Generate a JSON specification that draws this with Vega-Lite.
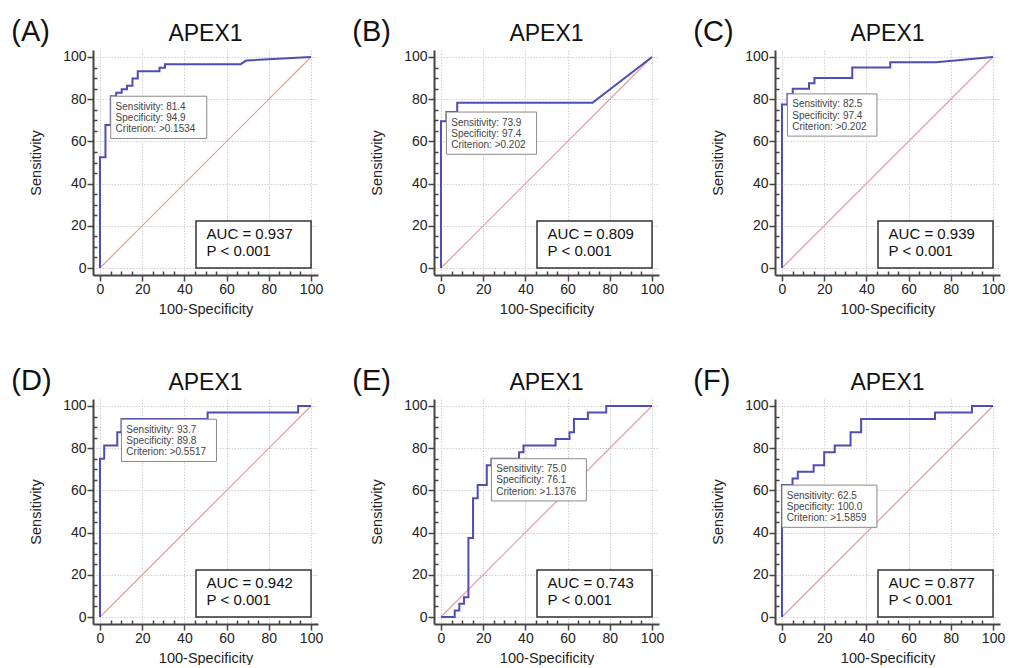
{
  "$schema": "https://vega.github.io/schema/vega-lite/v6.json",
  "background": "white",
  "padding": {"left": 11, "top": 16, "right": 5, "bottom": 0},
  "config": {
    "view": {"stroke": null},
    "font": "Liberation Sans",
    "header": {"labels": false, "title": null, "labelExpr": "''", "labelFontSize": 1, "labelPadding": 0, "titlePadding": 0},
    "axis": {
      "domainColor": "#444444", "domainWidth": 2,
      "tickColor": "#444444", "tickWidth": 1.5,
      "labelColor": "#222222", "labelFontSize": 14, "labelFont": "Liberation Sans",
      "titleColor": "#222222", "titleFontSize": 14.5, "titleFontWeight": "normal", "titleFont": "Liberation Sans",
      "gridColor": "#cfcfcf", "gridDash": [1.5, 1.5], "gridWidth": 1
    }
  },
  "data": {"values": [
    {"panel": "A", "kind": "roc", "order": 0, "x": 0, "y": 0},
    {"panel": "A", "kind": "roc", "order": 1, "x": 0, "y": 52.5},
    {"panel": "A", "kind": "roc", "order": 2, "x": 2.6, "y": 52.5},
    {"panel": "A", "kind": "roc", "order": 3, "x": 2.6, "y": 67.8},
    {"panel": "A", "kind": "roc", "order": 4, "x": 5.1, "y": 67.8},
    {"panel": "A", "kind": "roc", "order": 5, "x": 5.1, "y": 81.4},
    {"panel": "A", "kind": "roc", "order": 6, "x": 7.7, "y": 81.4},
    {"panel": "A", "kind": "roc", "order": 7, "x": 7.7, "y": 83.1},
    {"panel": "A", "kind": "roc", "order": 8, "x": 10.3, "y": 83.1},
    {"panel": "A", "kind": "roc", "order": 9, "x": 10.3, "y": 84.7},
    {"panel": "A", "kind": "roc", "order": 10, "x": 12.8, "y": 84.7},
    {"panel": "A", "kind": "roc", "order": 11, "x": 12.8, "y": 86.4},
    {"panel": "A", "kind": "roc", "order": 12, "x": 15.4, "y": 86.4},
    {"panel": "A", "kind": "roc", "order": 13, "x": 15.4, "y": 89.8},
    {"panel": "A", "kind": "roc", "order": 14, "x": 17.9, "y": 89.8},
    {"panel": "A", "kind": "roc", "order": 15, "x": 17.9, "y": 93.2},
    {"panel": "A", "kind": "roc", "order": 16, "x": 28.2, "y": 93.2},
    {"panel": "A", "kind": "roc", "order": 17, "x": 28.2, "y": 94.9},
    {"panel": "A", "kind": "roc", "order": 18, "x": 30.8, "y": 94.9},
    {"panel": "A", "kind": "roc", "order": 19, "x": 30.8, "y": 96.6},
    {"panel": "A", "kind": "roc", "order": 20, "x": 66.7, "y": 96.6},
    {"panel": "A", "kind": "roc", "order": 21, "x": 69.2, "y": 98.3},
    {"panel": "A", "kind": "roc", "order": 22, "x": 100, "y": 100},

    {"panel": "B", "kind": "roc", "order": 0, "x": 0, "y": 0},
    {"panel": "B", "kind": "roc", "order": 1, "x": 0, "y": 69.6},
    {"panel": "B", "kind": "roc", "order": 2, "x": 2.6, "y": 69.6},
    {"panel": "B", "kind": "roc", "order": 3, "x": 2.6, "y": 73.9},
    {"panel": "B", "kind": "roc", "order": 4, "x": 7.7, "y": 73.9},
    {"panel": "B", "kind": "roc", "order": 5, "x": 7.7, "y": 78.3},
    {"panel": "B", "kind": "roc", "order": 6, "x": 71.8, "y": 78.3},
    {"panel": "B", "kind": "roc", "order": 7, "x": 100, "y": 100},

    {"panel": "C", "kind": "roc", "order": 0, "x": 0, "y": 0},
    {"panel": "C", "kind": "roc", "order": 1, "x": 0, "y": 77.5},
    {"panel": "C", "kind": "roc", "order": 2, "x": 2.6, "y": 77.5},
    {"panel": "C", "kind": "roc", "order": 3, "x": 2.6, "y": 82.5},
    {"panel": "C", "kind": "roc", "order": 4, "x": 5.1, "y": 82.5},
    {"panel": "C", "kind": "roc", "order": 5, "x": 5.1, "y": 85.0},
    {"panel": "C", "kind": "roc", "order": 6, "x": 12.8, "y": 85.0},
    {"panel": "C", "kind": "roc", "order": 7, "x": 12.8, "y": 87.5},
    {"panel": "C", "kind": "roc", "order": 8, "x": 15.4, "y": 87.5},
    {"panel": "C", "kind": "roc", "order": 9, "x": 15.4, "y": 90.0},
    {"panel": "C", "kind": "roc", "order": 10, "x": 33.3, "y": 90.0},
    {"panel": "C", "kind": "roc", "order": 11, "x": 33.3, "y": 95.0},
    {"panel": "C", "kind": "roc", "order": 12, "x": 51.3, "y": 95.0},
    {"panel": "C", "kind": "roc", "order": 13, "x": 51.3, "y": 97.5},
    {"panel": "C", "kind": "roc", "order": 14, "x": 73.0, "y": 97.5},
    {"panel": "C", "kind": "roc", "order": 15, "x": 100, "y": 100},

    {"panel": "D", "kind": "roc", "order": 0, "x": 0, "y": 0},
    {"panel": "D", "kind": "roc", "order": 1, "x": 0, "y": 75.0},
    {"panel": "D", "kind": "roc", "order": 2, "x": 2.0, "y": 75.0},
    {"panel": "D", "kind": "roc", "order": 3, "x": 2.0, "y": 81.3},
    {"panel": "D", "kind": "roc", "order": 4, "x": 8.2, "y": 81.3},
    {"panel": "D", "kind": "roc", "order": 5, "x": 8.2, "y": 87.5},
    {"panel": "D", "kind": "roc", "order": 6, "x": 10.2, "y": 87.5},
    {"panel": "D", "kind": "roc", "order": 7, "x": 10.2, "y": 93.8},
    {"panel": "D", "kind": "roc", "order": 8, "x": 51.0, "y": 93.8},
    {"panel": "D", "kind": "roc", "order": 9, "x": 51.0, "y": 96.9},
    {"panel": "D", "kind": "roc", "order": 10, "x": 93.9, "y": 96.9},
    {"panel": "D", "kind": "roc", "order": 11, "x": 93.9, "y": 100},
    {"panel": "D", "kind": "roc", "order": 12, "x": 100, "y": 100},

    {"panel": "E", "kind": "roc", "order": 0, "x": 0, "y": 0},
    {"panel": "E", "kind": "roc", "order": 1, "x": 6.5, "y": 0},
    {"panel": "E", "kind": "roc", "order": 2, "x": 6.5, "y": 3.1},
    {"panel": "E", "kind": "roc", "order": 3, "x": 8.7, "y": 3.1},
    {"panel": "E", "kind": "roc", "order": 4, "x": 8.7, "y": 6.3},
    {"panel": "E", "kind": "roc", "order": 5, "x": 10.9, "y": 6.3},
    {"panel": "E", "kind": "roc", "order": 6, "x": 10.9, "y": 9.4},
    {"panel": "E", "kind": "roc", "order": 7, "x": 13.0, "y": 9.4},
    {"panel": "E", "kind": "roc", "order": 8, "x": 13.0, "y": 37.5},
    {"panel": "E", "kind": "roc", "order": 9, "x": 15.2, "y": 37.5},
    {"panel": "E", "kind": "roc", "order": 10, "x": 15.2, "y": 56.3},
    {"panel": "E", "kind": "roc", "order": 11, "x": 17.4, "y": 56.3},
    {"panel": "E", "kind": "roc", "order": 12, "x": 17.4, "y": 62.5},
    {"panel": "E", "kind": "roc", "order": 13, "x": 21.7, "y": 62.5},
    {"panel": "E", "kind": "roc", "order": 14, "x": 21.7, "y": 71.9},
    {"panel": "E", "kind": "roc", "order": 15, "x": 23.9, "y": 71.9},
    {"panel": "E", "kind": "roc", "order": 16, "x": 23.9, "y": 75.0},
    {"panel": "E", "kind": "roc", "order": 17, "x": 37.0, "y": 75.0},
    {"panel": "E", "kind": "roc", "order": 18, "x": 37.0, "y": 78.1},
    {"panel": "E", "kind": "roc", "order": 19, "x": 39.1, "y": 78.1},
    {"panel": "E", "kind": "roc", "order": 20, "x": 39.1, "y": 81.3},
    {"panel": "E", "kind": "roc", "order": 21, "x": 54.3, "y": 81.3},
    {"panel": "E", "kind": "roc", "order": 22, "x": 54.3, "y": 84.4},
    {"panel": "E", "kind": "roc", "order": 23, "x": 60.9, "y": 84.4},
    {"panel": "E", "kind": "roc", "order": 24, "x": 60.9, "y": 87.5},
    {"panel": "E", "kind": "roc", "order": 25, "x": 63.0, "y": 87.5},
    {"panel": "E", "kind": "roc", "order": 26, "x": 63.0, "y": 93.8},
    {"panel": "E", "kind": "roc", "order": 27, "x": 69.6, "y": 93.8},
    {"panel": "E", "kind": "roc", "order": 28, "x": 69.6, "y": 96.9},
    {"panel": "E", "kind": "roc", "order": 29, "x": 78.3, "y": 96.9},
    {"panel": "E", "kind": "roc", "order": 30, "x": 78.3, "y": 100},
    {"panel": "E", "kind": "roc", "order": 31, "x": 100, "y": 100},

    {"panel": "F", "kind": "roc", "order": 0, "x": 0, "y": 0},
    {"panel": "F", "kind": "roc", "order": 1, "x": 0, "y": 62.5},
    {"panel": "F", "kind": "roc", "order": 2, "x": 5.0, "y": 62.5},
    {"panel": "F", "kind": "roc", "order": 3, "x": 5.0, "y": 65.6},
    {"panel": "F", "kind": "roc", "order": 4, "x": 7.5, "y": 65.6},
    {"panel": "F", "kind": "roc", "order": 5, "x": 7.5, "y": 68.8},
    {"panel": "F", "kind": "roc", "order": 6, "x": 15.0, "y": 68.8},
    {"panel": "F", "kind": "roc", "order": 7, "x": 15.0, "y": 71.9},
    {"panel": "F", "kind": "roc", "order": 8, "x": 20.0, "y": 71.9},
    {"panel": "F", "kind": "roc", "order": 9, "x": 20.0, "y": 78.1},
    {"panel": "F", "kind": "roc", "order": 10, "x": 25.0, "y": 78.1},
    {"panel": "F", "kind": "roc", "order": 11, "x": 25.0, "y": 81.3},
    {"panel": "F", "kind": "roc", "order": 12, "x": 32.5, "y": 81.3},
    {"panel": "F", "kind": "roc", "order": 13, "x": 32.5, "y": 87.5},
    {"panel": "F", "kind": "roc", "order": 14, "x": 37.5, "y": 87.5},
    {"panel": "F", "kind": "roc", "order": 15, "x": 37.5, "y": 93.8},
    {"panel": "F", "kind": "roc", "order": 16, "x": 72.5, "y": 93.8},
    {"panel": "F", "kind": "roc", "order": 17, "x": 72.5, "y": 96.9},
    {"panel": "F", "kind": "roc", "order": 18, "x": 90.0, "y": 96.9},
    {"panel": "F", "kind": "roc", "order": 19, "x": 90.0, "y": 100},
    {"panel": "F", "kind": "roc", "order": 20, "x": 100, "y": 100},

    {"panel": "A", "kind": "diag", "order": 0, "x": 0, "y": 0},
    {"panel": "A", "kind": "diag", "order": 1, "x": 100, "y": 100},
    {"panel": "B", "kind": "diag", "order": 0, "x": 0, "y": 0},
    {"panel": "B", "kind": "diag", "order": 1, "x": 100, "y": 100},
    {"panel": "C", "kind": "diag", "order": 0, "x": 0, "y": 0},
    {"panel": "C", "kind": "diag", "order": 1, "x": 100, "y": 100},
    {"panel": "D", "kind": "diag", "order": 0, "x": 0, "y": 0},
    {"panel": "D", "kind": "diag", "order": 1, "x": 100, "y": 100},
    {"panel": "E", "kind": "diag", "order": 0, "x": 0, "y": 0},
    {"panel": "E", "kind": "diag", "order": 1, "x": 100, "y": 100},
    {"panel": "F", "kind": "diag", "order": 0, "x": 0, "y": 0},
    {"panel": "F", "kind": "diag", "order": 1, "x": 100, "y": 100},

    {"panel": "A", "kind": "ibox", "x": 5.1, "y": 81.4, "x2": 50.6, "y2": 61.4},
    {"panel": "B", "kind": "ibox", "x": 2.6, "y": 73.9, "x2": 45.3, "y2": 53.9},
    {"panel": "C", "kind": "ibox", "x": 2.6, "y": 82.5, "x2": 45.0, "y2": 62.5},
    {"panel": "D", "kind": "ibox", "x": 10.2, "y": 93.7, "x2": 55.2, "y2": 73.7},
    {"panel": "E", "kind": "ibox", "x": 23.9, "y": 75.0, "x2": 68.9, "y2": 55.0},
    {"panel": "F", "kind": "ibox", "x": 0, "y": 62.5, "x2": 45.0, "y2": 42.5},

    {"panel": "A", "kind": "itext", "x": 7.4, "y": 75.0, "text": "Sensitivity: 81.4"},
    {"panel": "A", "kind": "itext", "x": 7.4, "y": 69.7, "text": "Specificity: 94.9"},
    {"panel": "A", "kind": "itext", "x": 7.4, "y": 64.4, "text": "Criterion: >0.1534"},
    {"panel": "B", "kind": "itext", "x": 4.9, "y": 67.5, "text": "Sensitivity: 73.9"},
    {"panel": "B", "kind": "itext", "x": 4.9, "y": 62.2, "text": "Specificity: 97.4"},
    {"panel": "B", "kind": "itext", "x": 4.9, "y": 56.9, "text": "Criterion: >0.202"},
    {"panel": "C", "kind": "itext", "x": 4.9, "y": 76.1, "text": "Sensitivity: 82.5"},
    {"panel": "C", "kind": "itext", "x": 4.9, "y": 70.8, "text": "Specificity: 97.4"},
    {"panel": "C", "kind": "itext", "x": 4.9, "y": 65.5, "text": "Criterion: >0.202"},
    {"panel": "D", "kind": "itext", "x": 12.5, "y": 87.3, "text": "Sensitivity: 93.7"},
    {"panel": "D", "kind": "itext", "x": 12.5, "y": 82.0, "text": "Specificity: 89.8"},
    {"panel": "D", "kind": "itext", "x": 12.5, "y": 76.7, "text": "Criterion: >0.5517"},
    {"panel": "E", "kind": "itext", "x": 26.2, "y": 68.6, "text": "Sensitivity: 75.0"},
    {"panel": "E", "kind": "itext", "x": 26.2, "y": 63.3, "text": "Specificity: 76.1"},
    {"panel": "E", "kind": "itext", "x": 26.2, "y": 58.0, "text": "Criterion: >1.1376"},
    {"panel": "F", "kind": "itext", "x": 2.3, "y": 56.1, "text": "Sensitivity: 62.5"},
    {"panel": "F", "kind": "itext", "x": 2.3, "y": 50.8, "text": "Specificity: 100.0"},
    {"panel": "F", "kind": "itext", "x": 2.3, "y": 45.5, "text": "Criterion: >1.5859"},

    {"panel": "A", "kind": "abox", "x": 45.5, "y": 22.3, "x2": 100, "y2": 0},
    {"panel": "B", "kind": "abox", "x": 45.5, "y": 22.3, "x2": 100, "y2": 0},
    {"panel": "C", "kind": "abox", "x": 45.5, "y": 22.3, "x2": 100, "y2": 0},
    {"panel": "D", "kind": "abox", "x": 45.5, "y": 22.3, "x2": 100, "y2": 0},
    {"panel": "E", "kind": "abox", "x": 45.5, "y": 22.3, "x2": 100, "y2": 0},
    {"panel": "F", "kind": "abox", "x": 45.5, "y": 22.3, "x2": 100, "y2": 0},

    {"panel": "A", "kind": "atext", "x": 50.5, "y": 13.7, "text": "AUC = 0.937"},
    {"panel": "A", "kind": "atext", "x": 50.5, "y": 5.7, "text": "P < 0.001"},
    {"panel": "B", "kind": "atext", "x": 50.5, "y": 13.7, "text": "AUC = 0.809"},
    {"panel": "B", "kind": "atext", "x": 50.5, "y": 5.7, "text": "P < 0.001"},
    {"panel": "C", "kind": "atext", "x": 50.5, "y": 13.7, "text": "AUC = 0.939"},
    {"panel": "C", "kind": "atext", "x": 50.5, "y": 5.7, "text": "P < 0.001"},
    {"panel": "D", "kind": "atext", "x": 50.5, "y": 13.7, "text": "AUC = 0.942"},
    {"panel": "D", "kind": "atext", "x": 50.5, "y": 5.7, "text": "P < 0.001"},
    {"panel": "E", "kind": "atext", "x": 50.5, "y": 13.7, "text": "AUC = 0.743"},
    {"panel": "E", "kind": "atext", "x": 50.5, "y": 5.7, "text": "P < 0.001"},
    {"panel": "F", "kind": "atext", "x": 50.5, "y": 13.7, "text": "AUC = 0.877"},
    {"panel": "F", "kind": "atext", "x": 50.5, "y": 5.7, "text": "P < 0.001"},

    {"panel": "A", "kind": "title", "x": 50, "y": 107.6, "text": "APEX1"},
    {"panel": "B", "kind": "title", "x": 50, "y": 107.6, "text": "APEX1"},
    {"panel": "C", "kind": "title", "x": 50, "y": 107.6, "text": "APEX1"},
    {"panel": "D", "kind": "title", "x": 50, "y": 107.6, "text": "APEX1"},
    {"panel": "E", "kind": "title", "x": 50, "y": 107.6, "text": "APEX1"},
    {"panel": "F", "kind": "title", "x": 50, "y": 107.6, "text": "APEX1"},

    {"panel": "A", "kind": "letter", "x": -42, "y": 107.6, "text": "(A)"},
    {"panel": "B", "kind": "letter", "x": -42, "y": 107.6, "text": "(B)"},
    {"panel": "C", "kind": "letter", "x": -42, "y": 107.6, "text": "(C)"},
    {"panel": "D", "kind": "letter", "x": -42, "y": 107.6, "text": "(D)"},
    {"panel": "E", "kind": "letter", "x": -42, "y": 107.6, "text": "(E)"},
    {"panel": "F", "kind": "letter", "x": -42, "y": 107.6, "text": "(F)"}
  ]},
  "facet": {"field": "panel", "type": "nominal", "header": {"labels": false, "title": null, "labelExpr": "''", "labelFontSize": 1, "labelPadding": 0}},
  "columns": 3,
  "spacing": {"row": 124, "column": 116},
  "bounds": "flush",
  "resolve": {"axis": {"x": "independent", "y": "independent"}},
  "spec": {
    "width": 225,
    "height": 225,
    "encoding": {
      "x": {
        "field": "x", "type": "quantitative",
        "scale": {"domain": [-3.3, 103.3], "nice": false, "zero": false},
        "axis": {
          "title": "100-Specificity",
          "values": [0, 5, 10, 15, 20, 25, 30, 35, 40, 45, 50, 55, 60, 65, 70, 75, 80, 85, 90, 95, 100],
          "labelExpr": "datum.value % 20 === 0 ? datum.label : ''",
          "labelOverlap": false, "labelFlush": false, "labelBound": false,
          "grid": true,
          "gridOpacity": {"condition": {"test": "datum.value % 20 === 0", "value": 1}, "value": 0},
          "tickSize": {"condition": {"test": "datum.value % 20 === 0", "value": 6}, "value": -4},
          "labelPadding": 1,
          "titlePadding": 6
        }
      },
      "y": {
        "field": "y", "type": "quantitative",
        "scale": {"domain": [-3.3, 103.3], "nice": false, "zero": false},
        "axis": {
          "title": "Sensitivity",
          "values": [0, 5, 10, 15, 20, 25, 30, 35, 40, 45, 50, 55, 60, 65, 70, 75, 80, 85, 90, 95, 100],
          "labelExpr": "datum.value % 20 === 0 ? datum.label : ''",
          "labelOverlap": false, "labelFlush": false, "labelBound": false,
          "grid": true,
          "gridOpacity": {"condition": {"test": "datum.value % 20 === 0", "value": 1}, "value": 0},
          "tickSize": {"condition": {"test": "datum.value % 20 === 0", "value": 6}, "value": -4},
          "labelPadding": 1,
          "titlePadding": 19
        }
      }
    },
    "layer": [
      {
        "transform": [{"filter": "datum.kind === 'diag'"}],
        "mark": {"type": "line", "color": "#e39c9c", "strokeWidth": 1.2},
        "encoding": {"order": {"field": "order", "type": "quantitative"}}
      },
      {
        "transform": [{"filter": "datum.kind === 'roc'"}],
        "mark": {"type": "line", "color": "#4d4db5", "strokeWidth": 2},
        "encoding": {"order": {"field": "order", "type": "quantitative"}}
      },
      {
        "transform": [{"filter": "datum.kind === 'ibox'"}],
        "mark": {"type": "rect", "fill": "white", "stroke": "#8a8a8a", "strokeWidth": 1},
        "encoding": {"x2": {"field": "x2"}, "y2": {"field": "y2"}}
      },
      {
        "transform": [{"filter": "datum.kind === 'abox'"}],
        "mark": {"type": "rect", "fill": "white", "stroke": "#333333", "strokeWidth": 1.5},
        "encoding": {"x2": {"field": "x2"}, "y2": {"field": "y2"}}
      },
      {
        "transform": [{"filter": "datum.kind === 'itext'"}],
        "mark": {"type": "text", "align": "left", "baseline": "alphabetic", "fontSize": 10, "color": "#444444", "font": "Liberation Sans"},
        "encoding": {"text": {"field": "text"}}
      },
      {
        "transform": [{"filter": "datum.kind === 'atext'"}],
        "mark": {"type": "text", "align": "left", "baseline": "alphabetic", "fontSize": 15, "color": "#111111", "font": "Liberation Sans"},
        "encoding": {"text": {"field": "text"}}
      },
      {
        "transform": [{"filter": "datum.kind === 'title'"}],
        "mark": {"type": "text", "align": "center", "baseline": "alphabetic", "fontSize": 23, "color": "#111111", "font": "Liberation Sans"},
        "encoding": {"text": {"field": "text"}}
      },
      {
        "transform": [{"filter": "datum.kind === 'letter'"}],
        "mark": {"type": "text", "align": "left", "baseline": "alphabetic", "fontSize": 29, "color": "#111111", "font": "Liberation Sans"},
        "encoding": {"text": {"field": "text"}}
      }
    ]
  }
}
